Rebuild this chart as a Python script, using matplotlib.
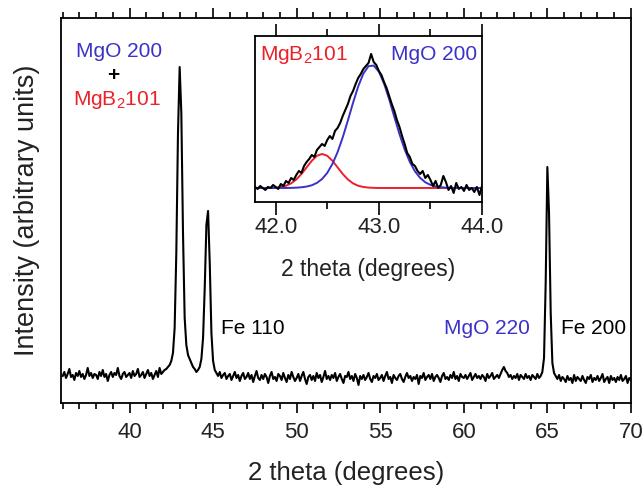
import numpy as np
import matplotlib
matplotlib.use("Agg")
import matplotlib.pyplot as plt
from matplotlib.ticker import MultipleLocator

plt.rcParams['font.family'] = ['Liberation Sans', 'DejaVu Sans']
plt.rcParams['mathtext.fontset'] = 'custom'
plt.rcParams['mathtext.rm'] = 'Liberation Sans'

# main XRD scan, 36.0 .. 70.0 deg in 0.1 deg steps (intensity in arbitrary units)
two_theta_start = 36.0
two_theta_step = 0.1
intensity = [
    27, 31, 25, 29, 34, 26, 28, 23, 30, 27,   # 36
    32, 26, 29, 24, 28, 35, 27, 30, 25, 29,   # 37
    28, 24, 31, 27, 33, 26, 29, 22, 28, 31,   # 38
    26, 30, 28, 35, 27, 24, 29, 31, 26, 28,   # 39
    30, 25, 32, 27, 29, 34, 26, 28, 31, 25,   # 40
    29, 33, 27, 30, 24, 28, 32, 26, 35, 29,   # 41
    31, 33, 34, 36, 38, 42, 50, 75, 150, 270,   # 42
    336, 290, 170, 85, 58, 48, 44, 40, 36, 34,  # 43
    31, 33, 36, 44, 65, 115, 178, 192, 140, 70,  # 44
    42, 33, 30, 27, 31, 25, 28, 30, 24, 27,   # 45
    29, 23, 27, 31, 25, 28, 22, 27, 30, 24,   # 46
    26, 30, 24, 28, 21, 27, 32, 25, 23, 28,   # 47
    24, 29, 26, 20, 27, 31, 24, 26, 22, 29,   # 48
    27, 23, 30, 25, 21, 28, 24, 31, 26, 22,   # 49
    25, 29, 22, 27, 31, 24, 19, 26, 28, 23,   # 50
    27, 22, 30, 25, 28, 21, 26, 32, 24, 27,   # 51
    23, 28, 25, 30, 22, 26, 29, 24, 20, 27,   # 52
    26, 31, 24, 27, 22, 29, 25, 18, 27, 24,   # 53
    28, 23, 26, 30, 24, 21, 27, 25, 29, 23,   # 54
    25, 28, 22, 27, 31, 24, 26, 20, 28, 25,   # 55
    23, 27, 29, 24, 21, 26, 30, 25, 27, 22,   # 56
    26, 24, 28, 19, 27, 25, 30, 23, 26, 28,   # 57
    24, 29, 22, 26, 28, 25, 21, 27, 30, 24,   # 58
    26, 23, 28, 25, 31, 24, 27, 22, 29, 26,   # 59
    25, 28, 24, 27, 30, 23, 26, 29, 25, 27,   # 60
    24, 28, 26, 22, 29, 25, 27, 30, 24, 26,   # 61
    28, 25, 29, 33, 36, 32, 30, 26, 28, 24,   # 62
    27, 25, 29, 23, 28, 26, 24, 29, 25, 27,   # 63
    23, 28, 26, 24, 29, 25, 27, 31, 45, 120,  # 64
    236, 190, 90, 40, 30, 27, 24, 28, 22, 26,  # 65
    24, 21, 27, 23, 25, 20, 28, 22, 26, 24,   # 66
    22, 27, 23, 20, 26, 24, 28, 21, 25, 23,   # 67
    27, 22, 25, 29, 21, 24, 26, 20, 27, 23,   # 68
    25, 21, 26, 23, 28, 22, 24, 27, 20, 25,   # 69
    23,                                       # 70
]

# inset: zoom on the 43 deg peak, 41.8 .. 44.0 deg
inset_start = 41.8
inset_step = 0.025
inset_data = [
    15, 13, 16, 14, 12, 15, 14, 17, 15, 13,
    18, 16, 21, 19, 24, 22, 27, 31, 29, 36,
    40, 43, 47, 45, 52, 55, 58, 56, 62, 66,
    63, 71, 74, 79, 86, 92, 98, 106, 111, 118,
    124, 128, 133, 136, 139, 148, 140, 137, 131, 127,
    120, 114, 106, 98, 91, 82, 75, 66, 58, 49,
    45, 38, 36, 31, 28, 31, 24, 27, 22, 16,
    21, 14, 17, 26, 20, 12, 16, 9, 19, 13,
    15, 11, 17, 12, 14, 10, 15, 7, 16,
]
# fitted components, 41.8 .. 44.0 deg in 0.05 deg steps
fit_step = 0.05
fit_mgb2 = [
    14.0, 14.0, 14.0, 14.1, 14.4, 15.0, 16.2, 18.6, 22.5, 28.0,
    34.6, 41.2, 46.2, 48.0, 46.2, 41.2, 34.6, 28.0, 22.5, 18.6,
    16.2, 15.0, 14.4, 14.1, 14.0, 14.0, 14.0, 14.0, 14.0, 14.0,
    14.0, 14.0, 14.0, 14.0, 14.0, 14.0, 14.0, 14.0, 14.0, 14.0,
    14.0, 14.0, 14.0, 14.0, 14.0,
]
fit_mgo = [
    14.0, 14.0, 14.0, 14.0, 14.0, 14.0, 14.0, 14.1, 14.3, 14.7,
    15.4, 16.7, 19.1, 23.0, 29.1, 38.0, 49.8, 64.6, 81.5, 99.2,
    115.6, 128.4, 135.8, 136.4, 130.4, 118.5, 102.7, 85.1, 67.8, 52.5,
    40.1, 30.6, 24.1, 19.7, 17.1, 15.6, 14.8, 14.3, 14.0, 14.0,
    14.0, 14.0, 14.0, 14.0, 14.0,
]

blue = '#3a32c8'
red = '#ec2028'
mgb2_label = r'MgB$_{\mathregular{2}}$101'

x_main = two_theta_start + two_theta_step * np.arange(len(intensity))
x_in = inset_start + inset_step * np.arange(len(inset_data))
x_fit = inset_start + fit_step * np.arange(len(fit_mgo))

fig = plt.figure(figsize=(6.44, 4.90), dpi=100)
ax = fig.add_axes([0.0947, 0.1776, 0.885, 0.7857])
ax.plot(x_main, intensity, color='black', lw=1.5)
ax.set_xlim(35.9, 70)
ax.set_ylim(0, 385)
ax.set_yticks([])
ax.xaxis.set_major_locator(MultipleLocator(5))
ax.xaxis.set_minor_locator(MultipleLocator(1))
ax.tick_params(axis='x', which='both', direction='out', top=True, labeltop=False,
               labelsize=16, pad=7, width=1.2, labelcolor='#222222')
ax.tick_params(axis='x', which='major', length=7)
ax.tick_params(axis='x', which='minor', length=4)
for s in ax.spines.values():
    s.set_linewidth(1.3)
ax.set_xlabel('2 theta (degrees)', fontsize=18.5, labelpad=13, color='#222222')
ax.set_ylabel('Intensity (arbitrary units)', fontsize=19.5, labelpad=15, color='#222222')

ax.text(39.4, 351, 'MgO 200', color=blue, fontsize=15, ha='center', va='center')
ax.text(39.05, 327, '+', color='black', fontsize=15, ha='center', va='center',
        fontweight='bold')
ax.text(39.25, 303, mgb2_label, color=red, fontsize=15, ha='center', va='center')
ax.text(45.5, 74, 'Fe 110', color='black', fontsize=15, ha='left', va='center')
ax.text(63.98, 74, 'MgO 220', color=blue, fontsize=15, ha='right', va='center')
ax.text(65.84, 74, 'Fe 200', color='black', fontsize=15, ha='left', va='center')

ins = fig.add_axes([0.396, 0.5878, 0.3525, 0.3388])
ins.plot(x_fit, fit_mgb2, color=red, lw=1.4)
ins.plot(x_fit, fit_mgo, color=blue, lw=1.4)
ins.plot(x_in, inset_data, color='black', lw=1.5)
ins.set_xlim(41.8, 44.0)
ins.set_ylim(0, 166)
ins.set_yticks([])
ins.set_xticks([42.0, 43.0, 44.0])
ins.set_xticklabels(['42.0', '43.0', '44.0'])
ins.xaxis.set_minor_locator(MultipleLocator(0.5))
ins.tick_params(axis='x', which='both', direction='out', top=True, labeltop=False,
                labelsize=16, pad=2, width=1.2, labelcolor='#222222')
ins.tick_params(axis='x', which='major', length=9)
ins.tick_params(axis='x', which='minor', length=5)
for s in ins.spines.values():
    s.set_linewidth(1.3)
ins.set_xlabel('2 theta (degrees)', fontsize=16.5, labelpad=14, color='#222222')
ins.text(41.845, 147, mgb2_label, color=red, fontsize=15, ha='left', va='center')
ins.text(43.95, 147, 'MgO 200', color=blue, fontsize=15, ha='right', va='center')

fig.savefig('out.png', dpi=100)
